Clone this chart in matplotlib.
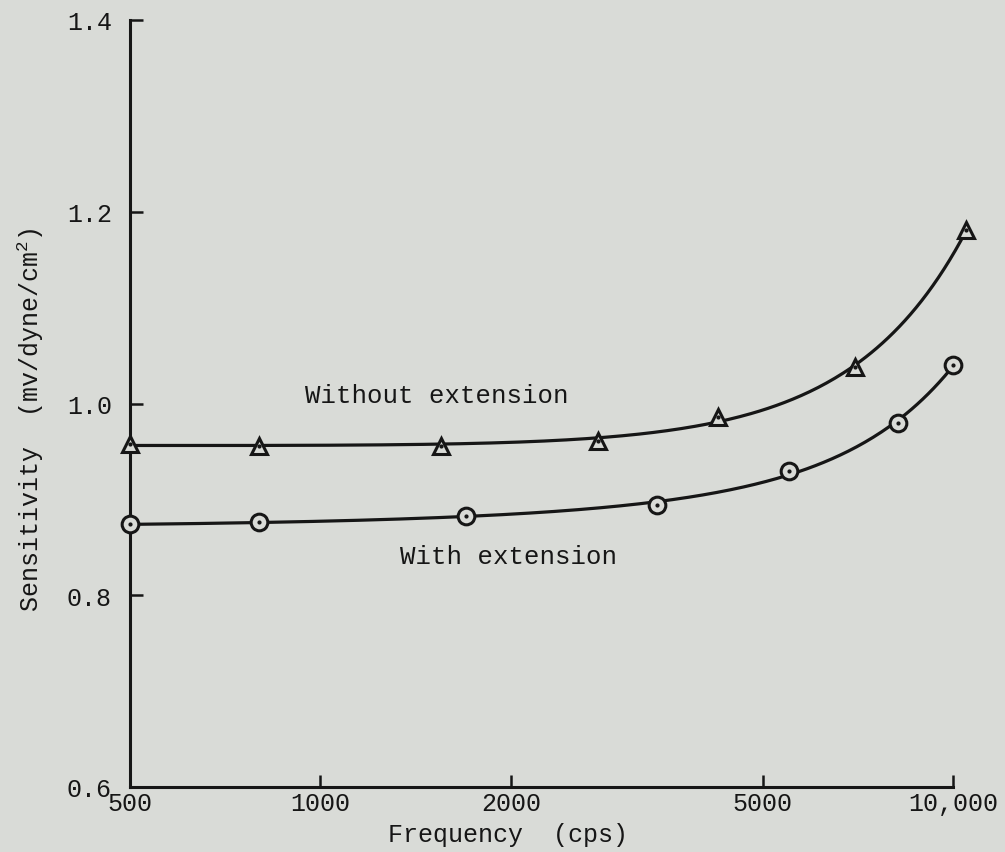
import numpy as np
import matplotlib
matplotlib.use("Agg")
import matplotlib.pyplot as plt
from matplotlib.ticker import FixedLocator, NullLocator

# values
freq_without = [500, 800, 1550, 2750, 4250, 7000, 10500]
sens_without = [0.958, 0.956, 0.956, 0.961, 0.986, 1.038, 1.181]

freq_with = [500, 800, 1700, 3400, 5500, 8200, 10000]
sens_with = [0.874, 0.876, 0.883, 0.894, 0.930, 0.980, 1.040]

x_ticks = [500, 1000, 2000, 5000, 10000]
x_tick_labels = ["500", "1000", "2000", "5000", "10,000"]
y_ticks = [0.6, 0.8, 1.0, 1.2, 1.4]
y_tick_labels = ["0.6", "0.8", "1.0", "1.2", "1.4"]

BG = "#d9dbd7"
INK = "#161616"
FONT = ["Liberation Mono", "DejaVu Sans Mono"]

plt.rcParams["font.family"] = FONT
plt.rcParams["mathtext.fontset"] = "custom"
plt.rcParams["mathtext.rm"] = "Liberation Mono"


def faired(xs, ys, deg=3, n=300):
    # least-squares cubic in frequency, like a hand-faired curve through the points
    x = np.asarray(xs, float)
    coef = np.polyfit(x, ys, deg)
    xx = np.geomspace(x[0], x[-1], n)
    return xx, np.polyval(coef, xx)


fig = plt.figure(figsize=(10.05, 8.53), dpi=100, facecolor=BG)
ax = fig.add_axes([130 / 1005, 65 / 853, 823 / 1005, 767 / 853])
ax.set_facecolor(BG)

for fx, sy, mk in [(freq_without, sens_without, "^"), (freq_with, sens_with, "o")]:
    cx, cy = faired(fx, sy)
    ax.plot(cx, cy, color=INK, lw=2.3, clip_on=False, zorder=2)
    ax.plot(fx, sy, ls="none", marker=mk, ms=12, mfc=BG, mec=INK, mew=2.2,
            clip_on=False, zorder=3)
    ax.plot(fx, sy, ls="none", marker=".", ms=4, color=INK, clip_on=False, zorder=4)

ax.set_xscale("log")
ax.set_xlim(500, 10000)
ax.set_ylim(0.6, 1.4)

ax.xaxis.set_major_locator(FixedLocator(x_ticks))
ax.xaxis.set_minor_locator(NullLocator())
ax.set_xticklabels(x_tick_labels)
ax.set_yticks(y_ticks)
ax.set_yticklabels(y_tick_labels)

for side in ["top", "right"]:
    ax.spines[side].set_visible(False)
for side in ["left", "bottom"]:
    ax.spines[side].set_linewidth(2.2)
    ax.spines[side].set_color(INK)

ax.tick_params(axis="both", direction="in", length=9, width=1.8, colors=INK,
               labelsize=18, labelcolor=INK)
ax.tick_params(axis="x", pad=3)
ax.tick_params(axis="y", pad=13)

ax.set_xlabel("Frequency  (cps)", fontsize=18, color=INK)
ax.xaxis.set_label_coords(0.459, -0.046)
ax.set_ylabel("Sensitivity  (mv/dyne/cm$^{\\mathrm{2}}$)", fontsize=18, color=INK)
ax.yaxis.set_label_coords(-0.102, 0.48)

ax.text(1525, 1.009, "Without extension", fontsize=18.5, color=INK,
        ha="center", va="center")
ax.text(1985, 0.841, "With extension", fontsize=18.5, color=INK,
        ha="center", va="center")

fig.savefig("out.png", dpi=100, facecolor=BG)
